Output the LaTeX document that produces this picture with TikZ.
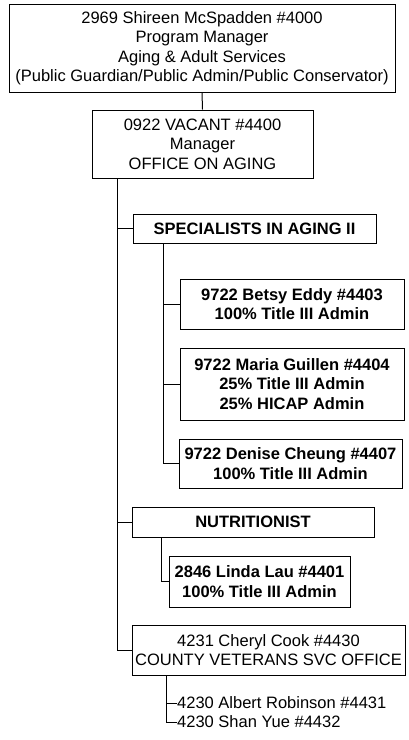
\documentclass[tikz,border=0pt]{standalone}
\usepackage{fontspec}
\setmainfont{Liberation Sans}
\begin{document}
\begin{tikzpicture}[x=1pt,y=-1pt,
  box/.style={draw=black, line width=1pt, inner sep=0pt, align=center,
    font=\fontsize{16.5}{19.5}\selectfont},
  bbox/.style={box, font=\fontsize{16.5}{19.5}\selectfont\bfseries},
  plain/.style={inner sep=0pt, anchor=west, font=\fontsize{16.5}{19.5}\selectfont},
  conn/.style={draw=black, line width=1pt}]
\useasboundingbox (0,0) rectangle (409,740);
\node[box, minimum width=386, minimum height=88] (top) at (202,48)
  {2969 Shireen McSpadden \#4000\\Program Manager\\Aging \& Adult Services\\(Public Guardian/Public Admin/Public Conservator)};
\node[box, minimum width=221, minimum height=68] (vac) at (202.5,144)
  {0922 VACANT \#4400\\Manager\\OFFICE ON AGING};
\node[bbox, minimum width=243, minimum height=29] (spec) at (254.5,228.5)
  {SPECIALISTS IN AGING II};
\node[bbox, minimum width=224, minimum height=50] (betsy) at (292,304)
  {9722 Betsy Eddy \#4403\\100\% Title III Admin};
\node[bbox, minimum width=224, minimum height=72] (maria) at (292,384)
  {9722 Maria Guillen \#4404\\25\% Title III Admin\\25\% HICAP Admin};
\node[bbox, minimum width=223, minimum height=49] (denise) at (290.5,463.5)
  {9722 Denise Cheung \#4407\\100\% Title III Admin};
\node[bbox, minimum width=242, minimum height=30] (nutr) at (253,522)
  {NUTRITIONIST};
\node[bbox, minimum width=181, minimum height=51] (linda) at (259.5,581.5)
  {2846 Linda Lau \#4401\\100\% Title III Admin};
\node[box, minimum width=273, minimum height=50] (cheryl) at (268.5,650)
  {4231 Cheryl Cook \#4430\\COUNTY VETERANS SVC OFFICE};
\node[plain] (albert) at (177,703) {4230 Albert Robinson \#4431};
\node[plain] (shan) at (177,722) {4230 Shan Yue \#4432};

\coordinate (t0) at (117,178);
\coordinate (s0) at (163,243);
\coordinate (n0) at (161,537);
\coordinate (c0) at (166,675);

\draw[conn] (top.south) -- (vac.north);
\draw[conn] (t0) |- (cheryl.west);
\draw[conn] (t0 |- spec.west) -- (spec.west);
\draw[conn] (t0 |- nutr.west) -- (nutr.west);
\draw[conn] (s0) |- (denise.west);
\draw[conn] (s0 |- betsy.west) -- (betsy.west);
\draw[conn] (s0 |- maria.west) -- (maria.west);
\draw[conn] (n0) |- (linda.west);
\draw[conn] (c0) |- (shan.west);
\draw[conn] (c0 |- albert.west) -- (albert.west);
\end{tikzpicture}
\end{document}
